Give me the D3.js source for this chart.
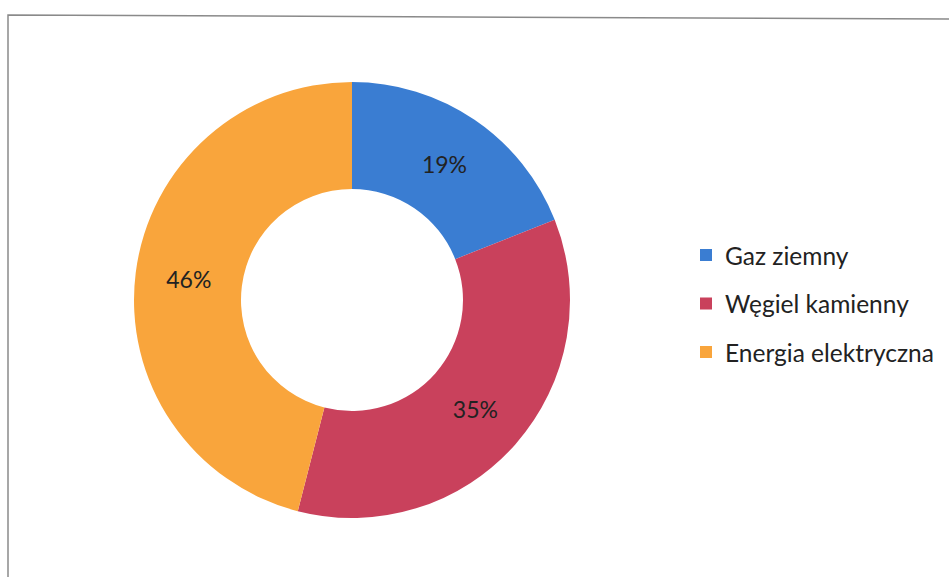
<!DOCTYPE html>
<html>
<head>
<meta charset="utf-8">
<script src="https://cdn.jsdelivr.net/npm/d3@7"></script>
<style>
  body { margin: 0; background: #fff; }
  svg { display: block; }
</style>
</head>
<body>
<svg id="chart"></svg>
<script>
// dane z wykresu
const categories = ['Gaz ziemny', 'Węgiel kamienny', 'Energia elektryczna'];
const values = [19, 35, 46];
const labels = ['19%', '35%', '46%'];
const colors = ['#3a7dd2', '#c9415c', '#f9a53c'];

const width = 949;
const height = 580;
const cx = 352, cy = 300;
const outerR = 218, innerR = 111;

const svg = d3.select('#chart')
  .attr('width', width)
  .attr('height', height);

// ramka
svg.append('path')
  .attr('d', `M8,577 L8,15 L949,19`)
  .attr('fill', 'none')
  .attr('stroke', '#8a8a8a')
  .attr('stroke-width', 1.5);

const pie = d3.pie().sort(null).value(d => d);
const arc = d3.arc().innerRadius(innerR).outerRadius(outerR);
const labelArc = d3.arc().innerRadius((innerR + outerR) / 2).outerRadius((innerR + outerR) / 2);

const g = svg.append('g').attr('transform', `translate(${cx},${cy})`);
const arcs = pie(values);

g.selectAll('path.slice')
  .data(arcs)
  .enter()
  .append('path')
  .attr('class', 'slice')
  .attr('d', arc)
  .attr('fill', (d, i) => colors[i]);

g.selectAll('text.lbl')
  .data(arcs)
  .enter()
  .append('text')
  .attr('class', 'lbl')
  .attr('transform', d => `translate(${labelArc.centroid(d)})`)
  .attr('text-anchor', 'middle')
  .attr('dominant-baseline', 'central')
  .style('font-family', 'Lato, "Open Sans", sans-serif')
  .style('font-size', '23px')
  .attr('fill', '#222')
  .text((d, i) => labels[i]);

// legenda
const legend = svg.append('g').attr('transform', 'translate(700,255)');
const item = legend.selectAll('g')
  .data(categories)
  .enter()
  .append('g')
  .attr('transform', (d, i) => `translate(0,${i * 48.5})`);

item.append('rect')
  .attr('x', 0)
  .attr('y', -6)
  .attr('width', 12)
  .attr('height', 12)
  .attr('fill', (d, i) => colors[i]);

item.append('text')
  .attr('x', 25)
  .attr('y', 0)
  .attr('dominant-baseline', 'central')
  .style('font-family', 'Lato, "Open Sans", sans-serif')
  .style('font-size', '24.5px')
  .attr('fill', '#222')
  .text(d => d);
</script>
</body>
</html>
